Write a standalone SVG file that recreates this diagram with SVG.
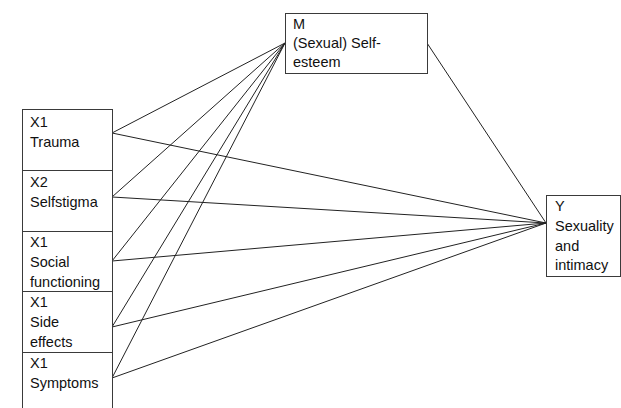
<svg xmlns="http://www.w3.org/2000/svg" width="621" height="408" viewBox="0 0 621 408">
  <style>
    .box { fill: #ffffff; stroke: #3a3a3a; stroke-width: 1; }
    .edge { stroke: #222222; stroke-width: 1; fill: none; }
    text { font-family: "Liberation Sans", Arial, sans-serif; font-size: 14.5px; fill: #111111; }
  </style>
  <rect width="621" height="408" fill="#ffffff"/>

  <g id="connectors">
    <!-- predictors to mediator -->
    <line class="edge" x1="112" y1="133" x2="285" y2="43"/>
    <line class="edge" x1="112" y1="197" x2="285" y2="43"/>
    <line class="edge" x1="112" y1="261" x2="285" y2="43"/>
    <line class="edge" x1="112" y1="327" x2="285" y2="43"/>
    <line class="edge" x1="112" y1="378" x2="285" y2="43"/>
    <!-- predictors to outcome -->
    <line class="edge" x1="112" y1="133" x2="546" y2="223"/>
    <line class="edge" x1="112" y1="197" x2="546" y2="223"/>
    <line class="edge" x1="112" y1="261" x2="546" y2="223"/>
    <line class="edge" x1="112" y1="327" x2="546" y2="223"/>
    <line class="edge" x1="112" y1="378" x2="546" y2="223"/>
    <!-- mediator to outcome -->
    <line class="edge" x1="427" y1="43" x2="546" y2="223"/>
  </g>

  <g id="x1-trauma">
    <rect class="box" x="22.5" y="109.5" width="90" height="61"/>
    <text x="30" y="127">X1</text>
    <text x="30" y="147">Trauma</text>
  </g>
  <g id="x2-selfstigma">
    <rect class="box" x="22.5" y="170.5" width="90" height="61"/>
    <text x="30" y="187">X2</text>
    <text x="30" y="207">Selfstigma</text>
  </g>
  <g id="x1-social">
    <rect class="box" x="22.5" y="231.5" width="90" height="60"/>
    <text x="30" y="247">X1</text>
    <text x="30" y="267">Social</text>
    <text x="30" y="287">functioning</text>
  </g>
  <g id="x1-side-effects">
    <rect class="box" x="22.5" y="291.5" width="90" height="61"/>
    <text x="30" y="307">X1</text>
    <text x="30" y="327">Side</text>
    <text x="30" y="347">effects</text>
  </g>
  <g id="x1-symptoms">
    <rect class="box" x="22.5" y="352.5" width="90" height="60"/>
    <text x="30" y="368">X1</text>
    <text x="30" y="388">Symptoms</text>
  </g>

  <g id="m-self-esteem">
    <rect class="box" x="285.5" y="13.5" width="142" height="60"/>
    <text x="293" y="29">M</text>
    <text x="293" y="48">(Sexual) Self-</text>
    <text x="293" y="67">esteem</text>
  </g>

  <g id="y-sexuality">
    <rect class="box" x="546.5" y="195.5" width="74" height="81"/>
    <text x="555" y="211">Y</text>
    <text x="555" y="231">Sexuality</text>
    <text x="555" y="251">and</text>
    <text x="555" y="270">intimacy</text>
  </g>
</svg>
